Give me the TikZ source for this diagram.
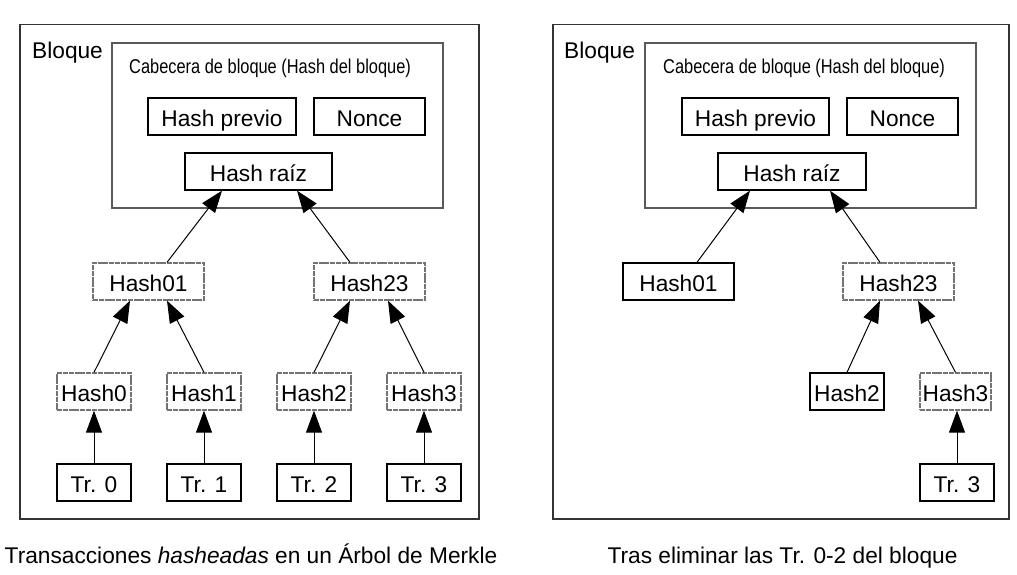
\documentclass[tikz,border=0pt]{standalone}
\usepackage{fontspec}
\setmainfont{Liberation Sans}
\usetikzlibrary{arrows.meta,calc}
\begin{document}
\begin{tikzpicture}[x=1pt,y=-1pt,
  big/.style={font=\fontsize{22.7}{27}\selectfont},
  box/.style={big,draw=black,line width=1.3pt,inner sep=0pt,minimum height=37pt,text height=19.7pt,text depth=0pt},
  hbox/.style={box,draw=black!55,dash pattern=on 5pt off 0.8pt},
  frame/.style={draw=black!80,line width=1.2pt},
  hdr/.style={draw=black!65,line width=1.2pt},
  arr/.style={line width=1pt,-{Triangle[length=22pt,width=16pt]}},
  lbl/.style={big,inner sep=0pt,anchor=base west},
  cab/.style={inner sep=0pt,anchor=base west,font=\fontsize{20}{24}\selectfont},
  captext/.style={big,inner sep=0pt,anchor=base}]
\useasboundingbox (0,0) rectangle (1017,575);

% ---------------- Left panel ----------------
\draw[frame] (20,24.7) rectangle (479,519);
\node[lbl] (bl1) at (32,58.3) {Bloque};
\draw[hdr] (112,43) rectangle (443,208);
\node[cab] (cab1) at (129,74) {\scalebox{0.82}[1]{Cabecera de bloque (Hash del bloque)}};
\node[box,minimum width=148pt] (hp1) at (222,116.5) {Hash previo};
\node[box,minimum width=111pt] (no1) at (369.5,116.5) {Nonce};
\node[box,minimum width=147pt] (hr1) at (258.5,171.5) {Hash raíz};

\node[hbox,minimum width=111pt] (h01a) at (148.5,281.5) {Hash01};
\node[hbox,minimum width=111pt] (h23a) at (369.5,281.5) {Hash23};
\node[hbox,minimum width=74pt] (h0a) at (94,391.5) {Hash0};
\node[hbox,minimum width=74pt] (h1a) at (204,391.5) {Hash1};
\node[hbox,minimum width=74pt] (h2a) at (314,391.5) {Hash2};
\node[hbox,minimum width=74pt] (h3a) at (424,391.5) {Hash3};
\node[box,minimum width=74pt] (t0a) at (94,482.5) {Tr. 0};
\node[box,minimum width=74pt] (t1a) at (204,482.5) {Tr. 1};
\node[box,minimum width=74pt] (t2a) at (314,482.5) {Tr. 2};
\node[box,minimum width=74pt] (t3a) at (424,482.5) {Tr. 3};

\draw[arr] (t0a.north) -- (h0a.south);
\draw[arr] (t1a.north) -- (h1a.south);
\draw[arr] (t2a.north) -- (h2a.south);
\draw[arr] (t3a.north) -- (h3a.south);
\draw[arr] (h0a.north) -- ($(h01a.south)+(-18.5,0)$);
\draw[arr] (h1a.north) -- ($(h01a.south)+(18.5,0)$);
\draw[arr] (h2a.north) -- ($(h23a.south)+(-19.5,0)$);
\draw[arr] (h3a.north) -- ($(h23a.south)+(18.5,0)$);
\draw[arr] ($(h01a.north)+(18.5,0)$) -- ($(hr1.south)+(-36.5,0)$);
\draw[arr] ($(h23a.north)+(-19.5,0)$) -- ($(hr1.south)+(38.5,0)$);

\node[captext] (c1) at (251,563) {Transacciones \textit{hasheadas} en un Árbol de Merkle};

% ---------------- Right panel ----------------
\draw[frame] (553,24.7) rectangle (1009,519);
\node[lbl] (bl2) at (564,58.3) {Bloque};
\draw[hdr] (645,43) rectangle (976,208);
\node[cab] (cab2) at (663,74) {\scalebox{0.82}[1]{Cabecera de bloque (Hash del bloque)}};
\node[box,minimum width=147pt] (hp2) at (755.5,116.5) {Hash previo};
\node[box,minimum width=111pt] (no2) at (902.5,116.5) {Nonce};
\node[box,minimum width=148pt] (hr2) at (792,171.5) {Hash raíz};

\node[box,minimum width=111pt] (h01b) at (678.5,281.5) {Hash01};
\node[hbox,minimum width=111pt] (h23b) at (898.5,281.5) {Hash23};
\node[box,minimum width=74pt] (h2b) at (847,391.5) {Hash2};
\node[hbox,minimum width=71pt] (h3b) at (955.5,391.5) {Hash3};
\node[box,minimum width=74pt] (t3b) at (957,482.5) {Tr. 3};

\draw[arr] (t3b.north) -- (t3b.north |- h3b.south);
\draw[arr] (h2b.north) -- ($(h23b.south)+(-18.5,0)$);
\draw[arr] (h3b.north) -- ($(h23b.south)+(19.5,0)$);
\draw[arr] ($(h01b.north)+(18.5,0)$) -- ($(hr2.south)+(-42,0)$);
\draw[arr] ($(h23b.north)+(-18.5,0)$) -- ($(hr2.south)+(38,0)$);

\node[captext] (c2) at (782.5,563) {Tras eliminar las Tr. 0-2 del bloque};
\end{tikzpicture}
\end{document}
